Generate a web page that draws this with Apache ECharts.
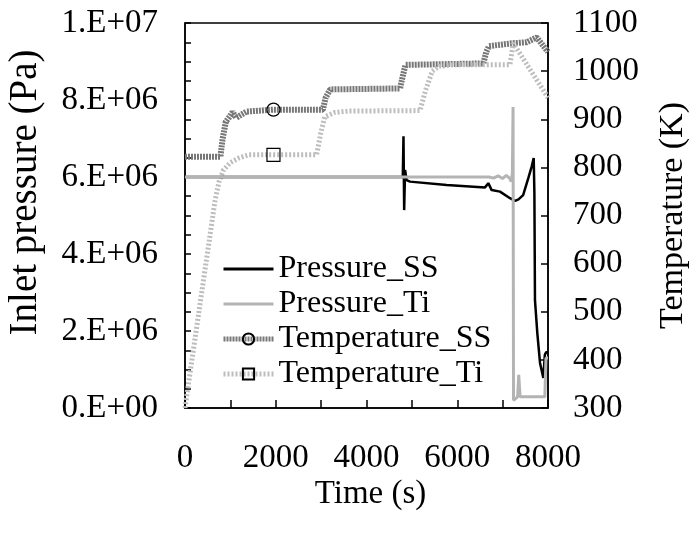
<!DOCTYPE html>
<html>
<head>
<meta charset="utf-8">
<script src="https://cdn.jsdelivr.net/npm/echarts@6/dist/echarts.min.js"></script>
<style>
html, body { margin: 0; padding: 0; background: #fff; }
#main { width: 695px; height: 533px; }
</style>
</head>
<body>
<div id="main"></div>
<script>
// inlet pressure (Pa), [time s, value]
var pressureSS = [
  [0, 6.0e6], [4800, 6.0e6], [4815, 7.06e6], [4830, 5.14e6], [4850, 6.18e6], [4885, 5.92e6],
  [4960, 5.88e6], [5767, 5.79e6], [6612, 5.73e6], [6685, 5.84e6], [6758, 5.66e6], [6942, 5.62e6],
  [7163, 5.45e6], [7273, 5.38e6], [7350, 5.42e6], [7452, 5.53e6], [7566, 5.97e6], [7640, 6.27e6],
  [7685, 6.49e6], [7700, 5.6e6], [7713, 2.8e6], [7764, 1.95e6], [7824, 1.17e6], [7897, 0.78e6],
  [7930, 1.38e6], [7960, 1.45e6], [8000, 1.45e6]
];
var pressureTi = [
  [0, 6.0e6], [6700, 6.0e6], [6800, 5.97e6], [6900, 6.03e6], [7000, 5.96e6], [7080, 6.04e6],
  [7150, 5.97e6], [7190, 5.88e6], [7215, 6.1e6], [7230, 7.82e6], [7240, 0.2e6], [7330, 0.29e6],
  [7355, 0.86e6], [7385, 0.29e6], [7930, 0.29e6], [7955, 1.3e6], [8000, 1.3e6]
];
// temperature (K), [time s, value]
var tempSS = [
  [0, 822], [780, 822], [830, 860], [900, 895], [980, 905], [1050, 915], [1130, 903],
  [1250, 910], [1360, 916], [1950, 920], [3040, 920], [3100, 945], [3200, 962], [4740, 964],
  [4800, 990], [4860, 1013], [6575, 1016], [6640, 1040], [6700, 1052], [7230, 1058],
  [7530, 1060], [7750, 1070], [8000, 1040]
];
var tempTi = [
  [0, 300], [660, 730], [750, 770], [850, 795], [1000, 810], [1200, 820], [1400, 826],
  [1950, 826], [2900, 826], [2990, 870], [3080, 905], [3300, 914], [3600, 917], [5180, 918],
  [5300, 960], [5450, 1000], [5600, 1010], [5900, 1013], [7160, 1013], [7235, 1058], [8000, 945]
];
var markTime = 1950; // the one marker on each temperature curve

var timeLabels = ["0", "2000", "4000", "6000", "8000"];
var pressureLabels = ["0.E+00", "2.E+06", "4.E+06", "6.E+06", "8.E+06", "1.E+07"];
var names = ["Pressure_SS", "Pressure_Ti", "Temperature_SS", "Temperature_Ti"];

var font = "'Liberation Serif', 'Times New Roman', serif";

function withMarker(pts, t) {
  return pts.map(function (p) {
    return p[0] === t ? { value: p } : { value: p, symbol: "none" };
  });
}

var noSymbol = { color: "rgba(0,0,0,0)", borderColor: "rgba(0,0,0,0)", borderWidth: 0 };
var ssLine = { color: "#777", width: 6, type: [2, 1] };
var tiLine = { color: "#bdbdbd", width: 5, type: [2, 2] };

var chart = echarts.init(document.getElementById("main"));
chart.setOption({
  animation: false,
  grid: { left: 185, right: 147, top: 23, bottom: 125, show: true, borderColor: "#000", borderWidth: 1.5, outerBoundsMode: "none" },
  legend: {
    orient: "vertical",
    left: 221,
    top: 253,
    padding: 0,
    itemGap: 3,
    itemWidth: 50,
    itemHeight: 14,
    selectedMode: false,
    textStyle: { fontFamily: font, fontSize: 32, color: "#000" },
    data: [
      { name: names[0], itemStyle: noSymbol, lineStyle: { color: "#000", width: 3, type: "solid" } },
      { name: names[1], itemStyle: noSymbol, lineStyle: { color: "#b4b4b4", width: 3, type: "solid" } },
      { name: names[2], lineStyle: { color: ssLine.color, width: 5, type: ssLine.type } },
      { name: names[3], lineStyle: { color: tiLine.color, width: 5, type: tiLine.type } }
    ]
  },
  xAxis: {
    type: "value",
    min: 0, max: 8000, interval: 1000,
    name: "Time (s)",
    nameLocation: "middle",
    nameGap: 70,
    nameMoveOverlap: false,
    nameTextStyle: { fontFamily: font, fontSize: 33, color: "#000", padding: [0, 0, 0, 8] },
    axisLine: { lineStyle: { color: "#000", width: 1.5 } },
    axisTick: { inside: true, length: 8, lineStyle: { color: "#000", width: 1.5 } },
    axisLabel: {
      margin: 34, fontFamily: font, fontSize: 33, color: "#000",
      formatter: function (v) { return v % 2000 === 0 ? timeLabels[v / 2000] : ""; }
    },
    splitLine: { show: false }
  },
  yAxis: [
    {
      type: "value",
      min: 0, max: 1e7, interval: 5e5,
      name: "Inlet pressure (Pa)",
      nameLocation: "middle",
      nameGap: 140,
      nameMoveOverlap: false,
      nameTextStyle: { fontFamily: font, fontSize: 39, color: "#000", padding: [0, 0, 0, 46] },
      axisLine: { show: true, lineStyle: { color: "#000", width: 1.5 } },
      axisTick: { inside: true, length: 6, lineStyle: { color: "#000", width: 1.5 } },
      axisLabel: {
        margin: 27, fontFamily: font, fontSize: 33, color: "#000",
        formatter: function (v) { return v % 2e6 === 0 ? pressureLabels[v / 2e6] : ""; }
      },
      splitLine: { show: false }
    },
    {
      type: "value",
      position: "right",
      min: 300, max: 1100, interval: 100,
      name: "Temperature (K)",
      nameLocation: "middle",
      nameGap: 108,
      nameMoveOverlap: false,
      nameTextStyle: { fontFamily: font, fontSize: 34, color: "#000" },
      axisLine: { show: true, lineStyle: { color: "#000", width: 1.5 } },
      axisTick: { inside: true, length: 7, lineStyle: { color: "#000", width: 1.5 } },
      axisLabel: {
        margin: 25, fontFamily: font, fontSize: 33, color: "#000",
        formatter: function (v) { return String(v); }
      },
      splitLine: { show: false }
    }
  ],
  series: [
    {
      name: names[2], type: "line", yAxisIndex: 1, z: 2,
      data: withMarker(tempSS, markTime),
      symbol: "circle", symbolSize: 13,
      itemStyle: { color: "rgba(0,0,0,0)", borderColor: "#000", borderWidth: 1.2 },
      lineStyle: ssLine
    },
    {
      name: names[3], type: "line", yAxisIndex: 1, z: 2,
      data: withMarker(tempTi, markTime),
      symbol: "rect", symbolSize: 13,
      itemStyle: { color: "rgba(0,0,0,0)", borderColor: "#000", borderWidth: 1.2 },
      lineStyle: tiLine
    },
    {
      name: names[0], type: "line", yAxisIndex: 0, z: 3,
      data: pressureSS, symbol: "none",
      itemStyle: { color: "#000" },
      lineStyle: { color: "#000", width: 2.5 }
    },
    {
      name: names[1], type: "line", yAxisIndex: 0, z: 3,
      data: pressureTi, symbol: "none",
      itemStyle: { color: "#b4b4b4" },
      lineStyle: { color: "#b4b4b4", width: 3 }
    }
  ]
});
</script>
</body>
</html>
